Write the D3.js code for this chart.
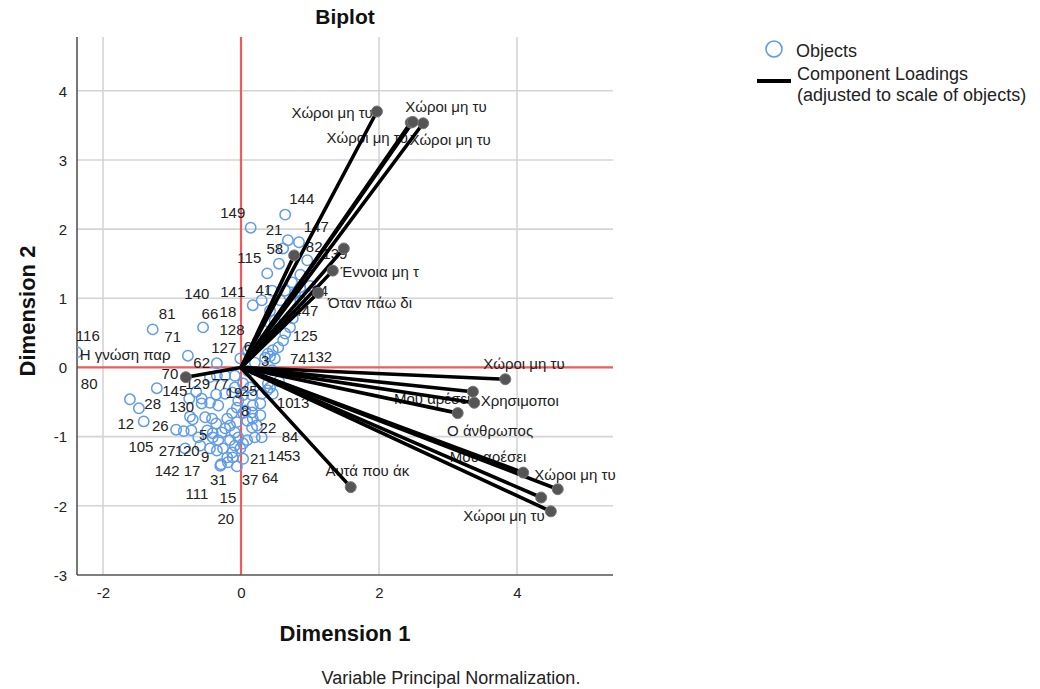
<!DOCTYPE html>
<html>
<head>
<meta charset="utf-8">
<script src="https://cdn.jsdelivr.net/npm/d3@7/dist/d3.min.js"></script>
<style>
  html, body { margin: 0; padding: 0; background: #fff; }
  svg { display: block; font-family: "Liberation Sans", Arial, sans-serif; }
</style>
</head>
<body>
<svg id="chart" width="1040" height="689"></svg>
<script>
// ---------- data ----------
const xTicks = [-2, 0, 2, 4];
const yTicks = [-3, -2, -1, 0, 1, 2, 3, 4];

// object scores (Dimension 1, Dimension 2)
const objX = [0.64,0.14,0.68,0.84,0.61,0.96,0.55,0.38,0.86,0.74,0.64,0.17,0.75,0.71,0.64,0.61,0.54,0.46,0.39,0.35,-0.01,0.49,0.20,-0.55,-1.28,-0.77,-0.35,-2.38,0.86,0.78,0.42,0.30,0.42,0.49,0.33,0.25,0.10,0.57,0.86,1.00,0.45,
  -1.22,-1.61,-1.48,-1.41,-0.94,-0.83,-0.74,-0.70,-0.52,-0.36,-0.72,-0.57,-0.57,-0.45,-0.33,-0.36,-0.62,-0.41,-0.28,-0.26,-0.29,-0.06,-0.12,-0.20,0.03,-0.09,-0.16,-0.04,0.09,0.20,0.16,0.23,0.28,0.16,0.17,0.03,0.16,0.30,0.38,0.13,0.03,-0.09,-0.23,-0.35,-0.45,-0.09,-0.04,-0.06,-0.13,-0.20,-0.16,-0.06,-0.09,-0.01,0.03,-0.23,-0.33,-0.13,-0.35,0.17,0.03,0.09,0.42,0.46,-0.23,-0.13,0.28,0.06,0.30,-0.19,-0.30,-0.42,-0.49,-0.41,-0.59,-0.45,-0.81,0.39,0.45,0.10,0.55,-0.65,-0.75];
const objY = [2.21,2.02,1.84,1.81,1.72,1.55,1.50,1.36,1.34,1.23,1.11,0.90,0.71,0.58,0.49,0.39,0.29,0.25,0.20,0.14,0.13,0.13,0.07,0.58,0.55,0.17,0.06,0.22,1.16,1.07,0.16,0.97,0.82,0.68,0.53,0.39,0.25,0.97,0.97,1.18,1.11,
  -0.30,-0.46,-0.59,-0.78,-0.90,-0.92,-0.71,-0.75,-0.72,-0.81,-0.91,-0.45,-0.52,-0.51,-0.55,-0.39,-1.01,-0.95,-0.94,-1.17,-1.40,-1.43,-1.30,-1.30,-1.32,-1.13,-1.05,-1.01,-1.05,-1.01,-0.87,-0.84,-0.69,-0.65,-0.55,-0.40,-0.40,-0.38,-0.33,-0.29,-0.23,-0.12,-0.12,-0.12,-0.14,-0.29,-0.48,-0.58,-0.66,-0.74,-0.84,-0.79,-0.94,-1.17,-1.10,-0.88,-1.05,-1.23,-1.20,-0.74,-0.66,-0.77,-0.29,-0.38,-0.38,-0.36,-0.52,-0.62,-1.01,-1.37,-1.42,-0.74,-0.91,-1.01,-1.13,-1.17,-1.17,-0.23,-0.04,-0.05,-0.20,-0.35,-0.45];

// object labels (text, anchor in dimension units)
const objLabelText = ["144","149","21","147","58","82","115","139","140","141","41","24","66","18","81","71","116","128","447","125","127","6","62","3","74","132","70","80","129","77","19","25","145","28","130","10","13","8","12","26","22","5","84","105","27","120","9","21","14","53","142","17","31","37","64","111","15","20"];
const objLabelX = [0.88,-0.12,0.48,1.09,0.49,1.06,0.12,1.36,-0.64,-0.12,0.33,1.14,-0.45,-0.19,-1.07,-0.99,-2.22,-0.13,0.94,0.93,-0.25,0.10,-0.57,0.35,0.83,1.14,-1.03,-2.20,-0.63,-0.30,-0.10,0.12,-0.96,-1.28,-0.86,0.64,0.87,0.06,-1.67,-1.17,0.39,-0.55,0.71,-1.45,-1.07,-0.78,-0.52,0.25,0.51,0.74,-1.07,-0.71,-0.33,0.13,0.42,-0.64,-0.19,-0.22];
const objLabelY = [2.44,2.24,1.99,2.04,1.71,1.75,1.58,1.65,1.07,1.10,1.13,1.11,0.78,0.81,0.78,0.45,0.46,0.55,0.82,0.46,0.29,0.30,0.07,0.10,0.12,0.16,-0.09,-0.23,-0.24,-0.24,-0.36,-0.33,-0.34,-0.53,-0.57,-0.51,-0.51,-0.62,-0.81,-0.84,-0.87,-0.97,-1.00,-1.14,-1.21,-1.21,-1.29,-1.32,-1.27,-1.27,-1.49,-1.49,-1.63,-1.63,-1.60,-1.82,-1.89,-2.18];

// component loadings (adjusted to scale of objects)
const loadX = [1.97,2.46,2.64,2.49,1.49,1.33,0.77,1.12,3.83,3.36,3.38,3.14,4.09,4.59,4.35,4.49,1.59,-0.80];
const loadY = [3.70,3.54,3.53,3.55,1.72,1.40,1.62,1.08,-0.17,-0.35,-0.51,-0.66,-1.52,-1.76,-1.88,-2.08,-1.73,-0.14];

const loadLabelText = ["Χώροι μη τυ","Χώροι μη τυ","Χώροι μη τυ","Χώροι μη τυ","Έννοια μη τ","Όταν πάω δι","Χώροι μη τυ","Μου αρέσει","Χρησιμοποι","Ο άνθρωπος","Μου αρέσει","Χώροι μη τυ","Χώροι μη τυ","Αυτά που άκ","Η γνώση παρ"];
const loadLabelX = [1.32,2.97,1.83,3.03,2.01,1.87,4.10,2.77,4.04,3.61,3.58,4.84,3.81,1.83,-1.68];
const loadLabelY = [3.68,3.77,3.32,3.29,1.39,0.94,0.06,-0.45,-0.48,-0.91,-1.29,-1.55,-2.14,-1.49,0.19];

// ---------- drawing ----------
const svg = d3.select("#chart");
const pLeft = 77, pRight = 613, pTop = 37, pBottom = 575;
const x = d3.scaleLinear().domain([-2.377, 5.391]).range([pLeft, pRight]);
const y = d3.scaleLinear().domain([-3, 4.777]).range([pBottom, pTop]);

const objColor = "#5f9be8";
const gridColor = "#d4d4d4";
const refColor = "#ef5b5b";

svg.append("defs").append("clipPath").attr("id", "plotclip")
  .append("rect").attr("x", pLeft).attr("y", pTop).attr("width", pRight - pLeft).attr("height", pBottom - pTop);

// gridlines
const grid = svg.append("g");
grid.selectAll("line.vx").data(xTicks.filter(d => d !== 0)).join("line")
  .attr("class", "vx")
  .attr("x1", d => x(d)).attr("x2", d => x(d)).attr("y1", pTop).attr("y2", pBottom)
  .attr("stroke", gridColor).attr("stroke-width", 1.6);
grid.selectAll("line.hy").data(yTicks.filter(d => d !== 0 && d !== -3)).join("line")
  .attr("class", "hy")
  .attr("y1", d => y(d)).attr("y2", d => y(d)).attr("x1", pLeft).attr("x2", pRight)
  .attr("stroke", gridColor).attr("stroke-width", 1.6);

// reference lines
grid.append("line").attr("x1", x(0)).attr("x2", x(0)).attr("y1", pTop).attr("y2", pBottom)
  .attr("stroke", refColor).attr("stroke-width", 2.2);
grid.append("line").attr("y1", y(0)).attr("y2", y(0)).attr("x1", pLeft).attr("x2", pRight)
  .attr("stroke", refColor).attr("stroke-width", 2.2);

// axes
const xAxis = d3.axisBottom(x).tickValues(xTicks).tickSize(0).tickPadding(12).tickFormat(d => String(d));
const yAxis = d3.axisLeft(y).tickValues(yTicks).tickSize(0).tickPadding(10).tickFormat(d => String(d));
const gx = svg.append("g").attr("transform", `translate(0,${pBottom})`).call(xAxis);
const gy = svg.append("g").attr("transform", `translate(${pLeft},0)`).call(yAxis);
[gx, gy].forEach(g => {
  g.select(".domain").remove();
  g.selectAll("text").attr("font-size", 15).attr("fill", "#222")
    .attr("font-family", "'Liberation Sans', Arial, sans-serif");
});
gy.selectAll("text").attr("dy", "0.35em");

svg.append("line").attr("x1", pLeft).attr("x2", pLeft).attr("y1", pTop).attr("y2", pBottom)
  .attr("stroke", "#555").attr("stroke-width", 1.6);
svg.append("line").attr("x1", pLeft).attr("x2", pRight).attr("y1", pBottom).attr("y2", pBottom)
  .attr("stroke", "#555").attr("stroke-width", 1.6);

// objects
const objects = objX.map((v, i) => ({ x: v, y: objY[i] }));
svg.append("g").attr("clip-path", "url(#plotclip)")
  .selectAll("circle").data(objects).join("circle")
  .attr("cx", d => x(d.x)).attr("cy", d => y(d.y)).attr("r", 5.2)
  .attr("fill", "none").attr("stroke", objColor).attr("stroke-width", 1.5);

// object labels
const objLabels = objLabelText.map((t, i) => ({ t, x: objLabelX[i], y: objLabelY[i] }));
svg.append("g").selectAll("text").data(objLabels).join("text")
  .attr("x", d => x(d.x)).attr("y", d => y(d.y)).attr("dy", "0.35em")
  .attr("text-anchor", "middle").attr("font-size", 15).attr("fill", "#222")
  .text(d => d.t);

// loading labels (under lines)
const loadLabels = loadLabelText.map((t, i) => ({ t, x: loadLabelX[i], y: loadLabelY[i] }));
svg.append("g").selectAll("text").data(loadLabels).join("text")
  .attr("x", d => x(d.x)).attr("y", d => y(d.y)).attr("dy", "0.35em")
  .attr("text-anchor", "middle").attr("font-size", 15).attr("fill", "#222")
  .text(d => d.t);

// loadings
const loads = loadX.map((v, i) => ({ x: v, y: loadY[i] }));
const lg = svg.append("g").attr("clip-path", "url(#plotclip)");
lg.selectAll("line").data(loads).join("line")
  .attr("x1", x(0)).attr("y1", y(0)).attr("x2", d => x(d.x)).attr("y2", d => y(d.y))
  .attr("stroke", "#000").attr("stroke-width", 3.6).attr("stroke-linecap", "round");
lg.selectAll("circle").data(loads).join("circle")
  .attr("cx", d => x(d.x)).attr("cy", d => y(d.y)).attr("r", 5.5)
  .attr("fill", "#555").attr("stroke", "#777").attr("stroke-width", 1);

// titles
svg.append("text").attr("x", 345).attr("y", 17).attr("dy", "0.35em").attr("text-anchor", "middle")
  .attr("font-size", 21).attr("font-weight", "bold").attr("fill", "#111").text("Biplot");
svg.append("text").attr("x", 345).attr("y", 633).attr("dy", "0.35em").attr("text-anchor", "middle")
  .attr("font-size", 22).attr("font-weight", "bold").attr("fill", "#111").text("Dimension 1");
svg.append("text").attr("transform", "translate(27,311) rotate(-90)").attr("dy", "0.35em")
  .attr("text-anchor", "middle").attr("font-size", 22).attr("font-weight", "bold").attr("fill", "#111")
  .text("Dimension 2");
svg.append("text").attr("x", 451).attr("y", 678).attr("dy", "0.35em").attr("text-anchor", "middle")
  .attr("font-size", 18).attr("fill", "#222").text("Variable Principal Normalization.");

// legend
const leg = svg.append("g");
leg.append("circle").attr("cx", 774).attr("cy", 49).attr("r", 8)
  .attr("fill", "none").attr("stroke", objColor).attr("stroke-width", 1.6);
leg.append("text").attr("x", 796).attr("y", 51).attr("dy", "0.35em").attr("font-size", 18).attr("fill", "#222").text("Objects");
leg.append("line").attr("x1", 757).attr("x2", 791).attr("y1", 81).attr("y2", 81)
  .attr("stroke", "#000").attr("stroke-width", 4);
leg.append("text").attr("x", 797).attr("y", 74).attr("dy", "0.35em").attr("font-size", 18).attr("fill", "#222").text("Component Loadings");
leg.append("text").attr("x", 797).attr("y", 95).attr("dy", "0.35em").attr("font-size", 18).attr("fill", "#222").text("(adjusted to scale of objects)");
</script>
</body>
</html>
